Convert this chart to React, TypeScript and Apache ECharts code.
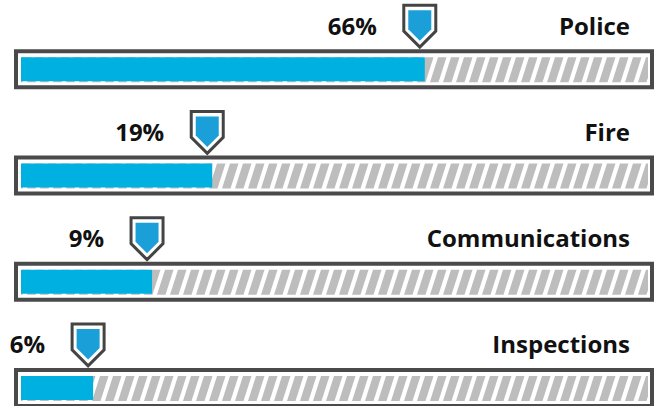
import React, { useEffect, useRef } from "react";
import * as echarts from "echarts";

const categories = ["Police", "Fire", "Communications", "Inspections"];
const shares = [66, 19, 9, 6];
const barFill = [64.4, 30.5, 20.9, 11.5];

const FONT = '"Open Sans", "DejaVu Sans", sans-serif';

function clipX(poly: number[][], a: number, b: number): number[][] {
  const clip = (pts: number[][], inside: (p: number[]) => boolean, edge: number) => {
    const out: number[][] = [];
    for (let k = 0; k < pts.length; k++) {
      const cur = pts[k];
      const prev = pts[(k + pts.length - 1) % pts.length];
      const cIn = inside(cur);
      const pIn = inside(prev);
      if (cIn !== pIn) {
        const t = (edge - prev[0]) / (cur[0] - prev[0]);
        out.push([edge, prev[1] + t * (cur[1] - prev[1])]);
      }
      if (cIn) out.push(cur);
    }
    return out;
  };
  let r = clip(poly, (p) => p[0] >= a, a);
  if (r.length) r = clip(r, (p) => p[0] <= b, b);
  return r;
}

export default function App() {
  const ref = useRef<HTMLDivElement>(null);
  useEffect(() => {
    document.body.style.margin = "0";
    if (!ref.current) return;
    const chart = echarts.init(ref.current, undefined, { renderer: "svg" });
    const renderItem = (params: any, api: any) => {
      const fill = api.value(0);
      const i = api.value(1);
      const share = api.value(2);
      const [x0, cy] = api.coord([0, i]);
      const [x1] = api.coord([100, i]);
      const [xf] = api.coord([fill, i]);
      const children: any[] = [];
      children.push({
        type: "rect",
        shape: { x: x0 - 5, y: cy - 18, width: x1 - x0 + 9, height: 36 },
        style: { fill: "#ffffff", stroke: "#4a4a4a", lineWidth: 4 },
      });
      const yt = cy - 12;
      const yb = cy + 13;
      for (let s = x0 - 20; s < x1; s += 13) {
        const poly = clipX(
          [
            [s, yb],
            [s + 8.5, yb],
            [s + 16.5, yt],
            [s + 8, yt],
          ],
          x0,
          x1
        );
        if (poly.length >= 3) {
          children.push({
            type: "polygon",
            shape: { points: poly },
            style: { fill: "#bdbdbd" },
          });
        }
      }
      children.push({
        type: "rect",
        shape: { x: x0, y: cy - 12, width: xf - x0, height: 24 },
        style: { fill: "#00b0e0" },
      });
      const mx = xf - 5;
      const ty = cy - 20;
      children.push({
        type: "polygon",
        shape: {
          points: [
            [mx - 16, ty - 44],
            [mx + 16, ty - 44],
            [mx + 16, ty - 18],
            [mx, ty - 2],
            [mx - 16, ty - 18],
          ],
        },
        style: { fill: "#ffffff", stroke: "#444444", lineWidth: 3, lineJoin: "miter" },
      });
      children.push({
        type: "polygon",
        shape: {
          points: [
            [mx - 11.5, ty - 39],
            [mx + 11.5, ty - 39],
            [mx + 11.5, ty - 19.9],
            [mx, ty - 8.4],
            [mx - 11.5, ty - 19.9],
          ],
        },
        style: { fill: "#1a9fd8" },
      });
      children.push({
        type: "text",
        style: {
          text: share + "%",
          x: mx - 43,
          y: cy - 44,
          textAlign: "right",
          textVerticalAlign: "middle",
          fontFamily: FONT,
          fontWeight: "bold",
          fontSize: 24,
          fill: "#111111",
        },
      });
      children.push({
        type: "text",
        style: {
          text: categories[i],
          x: x1 - 18,
          y: cy - 44,
          textAlign: "right",
          textVerticalAlign: "middle",
          fontFamily: FONT,
          fontWeight: "bold",
          fontSize: 24,
          fill: "#111111",
        },
      });
      return { type: "group", children };
    };
    chart.setOption({
      animation: false,
      grid: { left: 21, width: 627, top: 16, bottom: 0 },
      xAxis: { type: "value", min: 0, max: 100, show: false },
      yAxis: { type: "value", min: -0.5, max: 3.17, inverse: true, show: false },
      series: [
        {
          type: "custom",
          clip: false,
          renderItem,
          encode: { x: 0, y: 1 },
          data: categories.map((c, i) => [barFill[i], i, shares[i]]),
        },
      ],
    });
    return () => chart.dispose();
  }, []);
  return <div ref={ref} style={{ width: 655, height: 406 }} />;
}
